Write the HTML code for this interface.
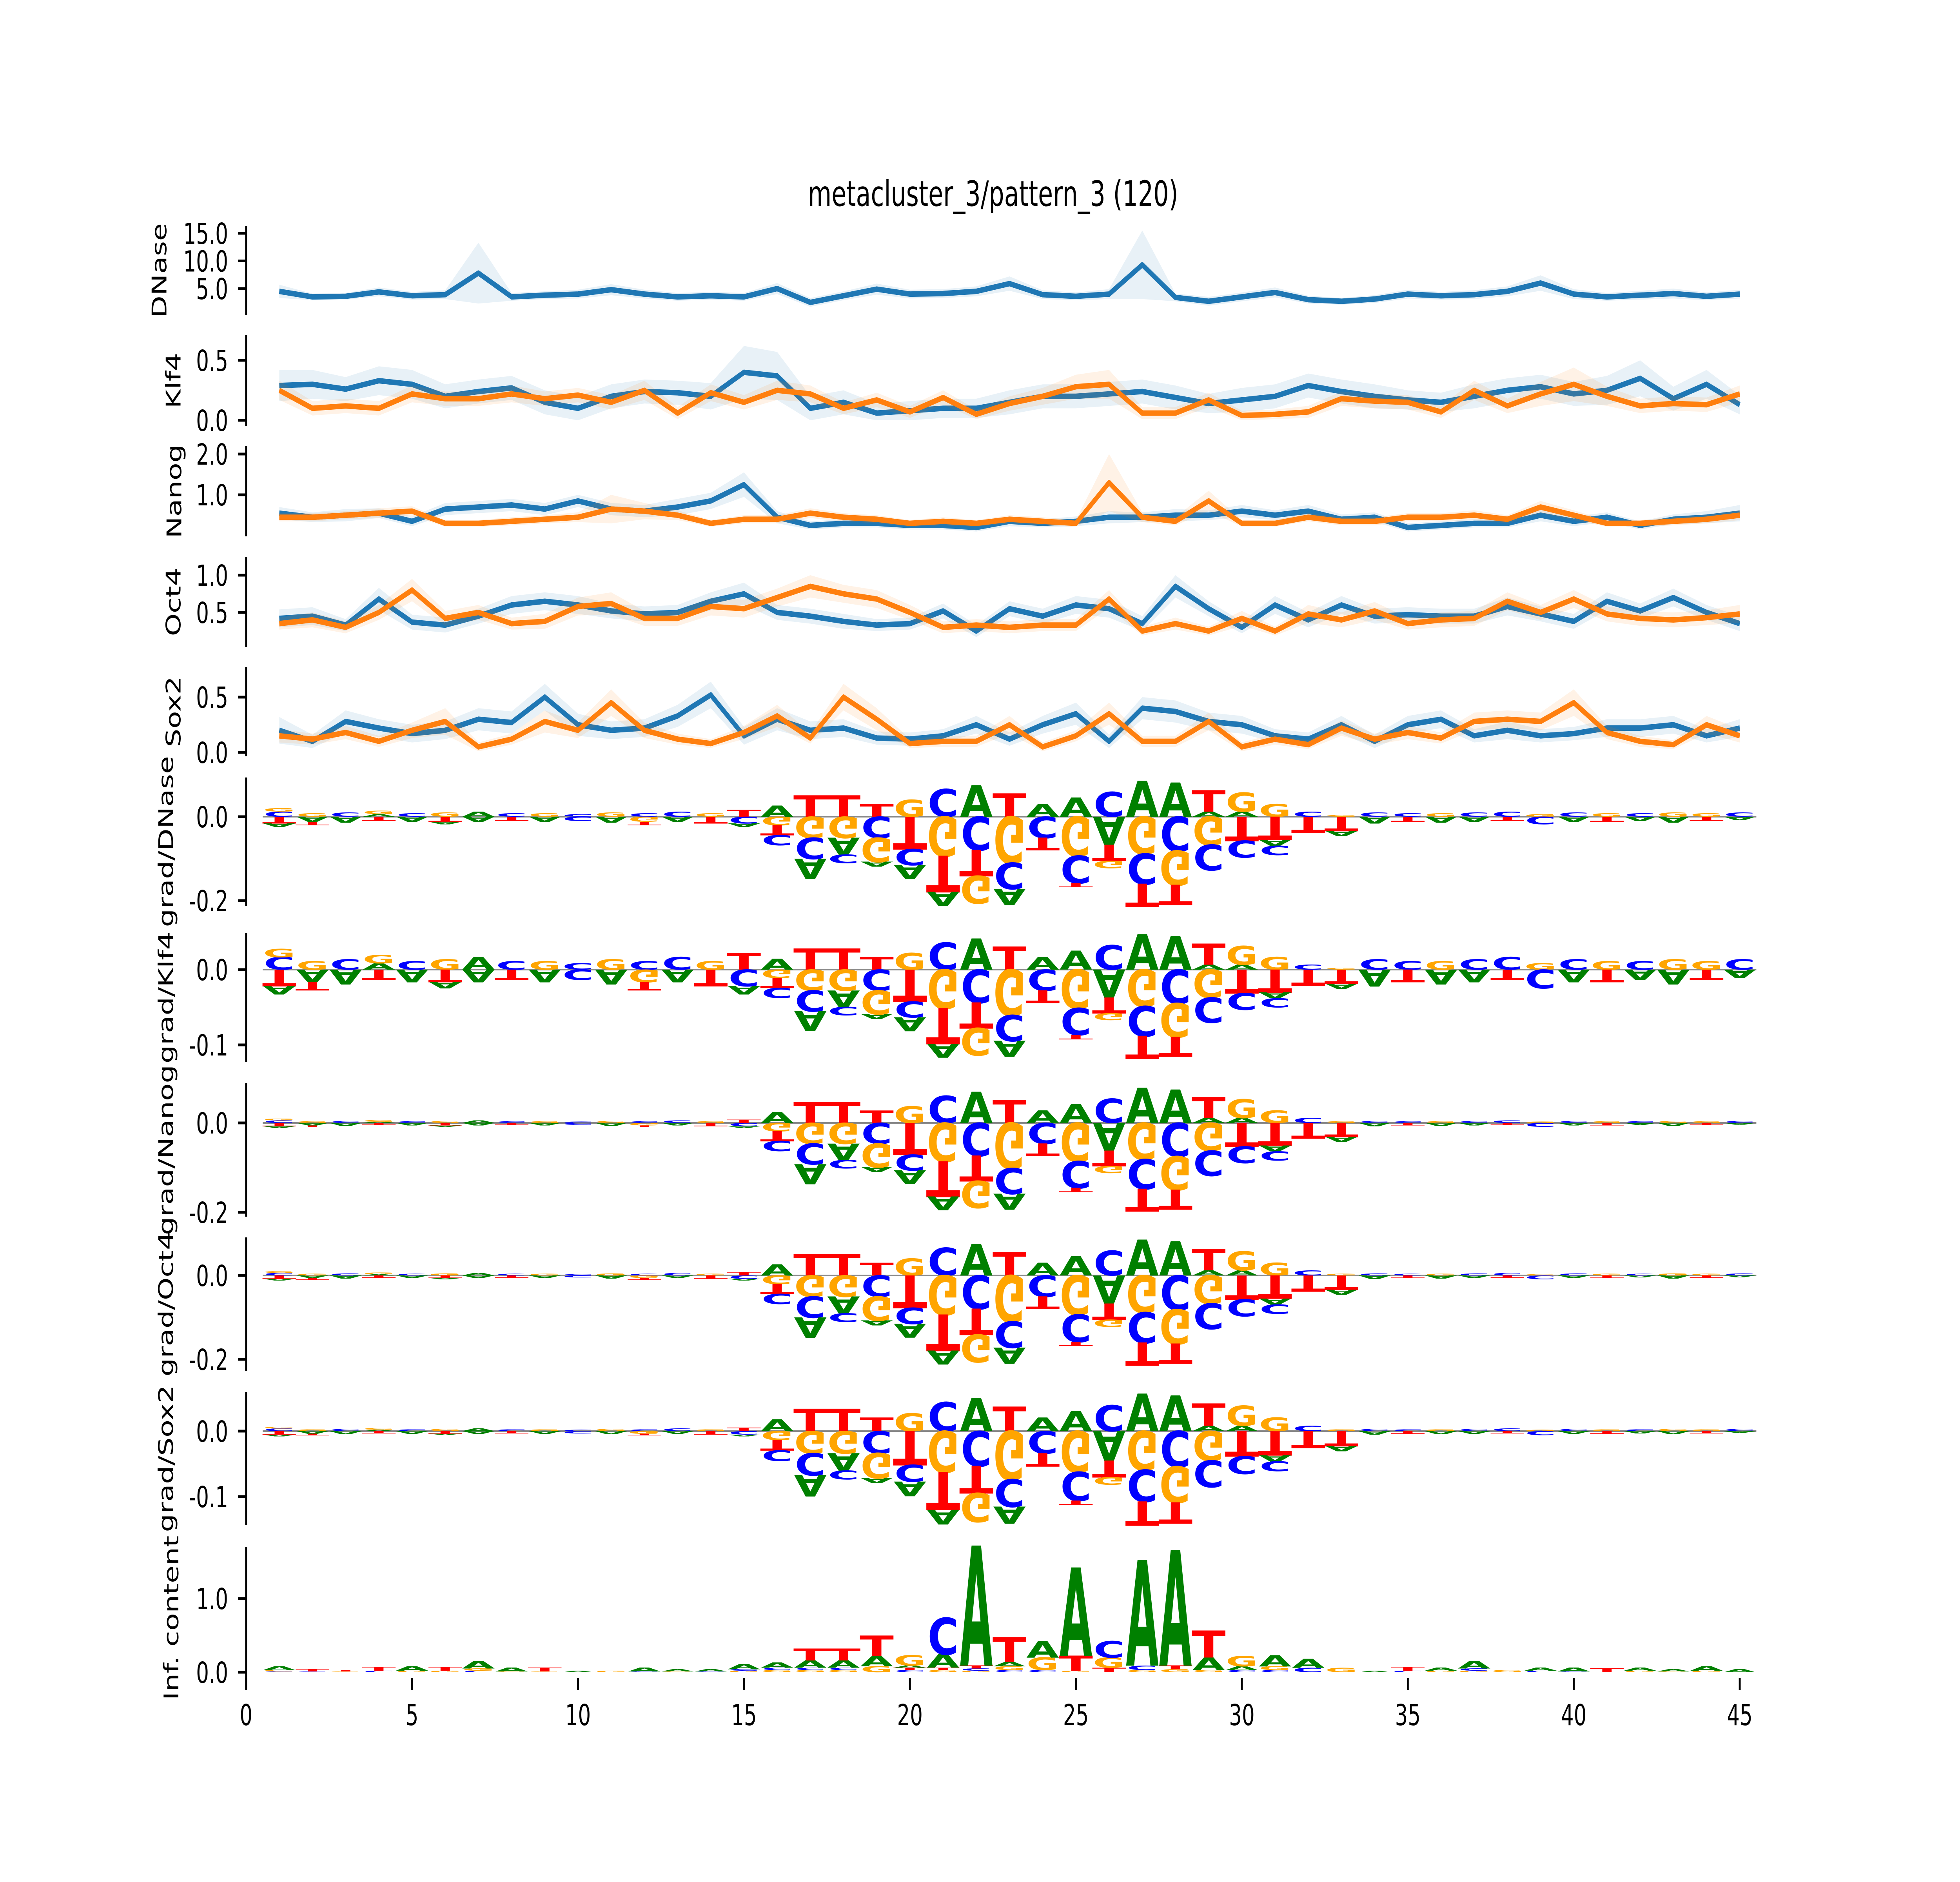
<!DOCTYPE html>
<html><head><meta charset="utf-8">
<style>
html,body{margin:0;padding:0;background:#fff;overflow:hidden;width:100%;height:100%;}
svg{display:block;width:100vw;height:100vh;}
text{font-family:"DejaVu Sans","Liberation Sans",sans-serif;}
</style></head>
<body>
<svg id="fig" xmlns="http://www.w3.org/2000/svg" viewBox="0 0 7200 4800" preserveAspectRatio="none">
<rect x="0" y="0" width="7200" height="4800" fill="#ffffff"/>
<text x="3648" y="525" font-size="89" text-anchor="middle">metacluster_3/pattern_3 (120)</text>
</svg>
<script>
// ---------- data ----------
const positions = [1,2,3,4,5,6,7,8,9,10,11,12,13,14,15,16,17,18,19,20,21,22,23,24,25,26,27,28,29,30,31,32,33,34,35,36,37,38,39,40,41,42,43,44,45];
const xTicks = [0,5,10,15,20,25,30,35,40,45];
const xTickLabels = ["0","5","10","15","20","25","30","35","40","45"];

const dnaseBlue = [4.5,3.5,3.6,4.4,3.7,3.9,7.8,3.5,3.8,4.0,4.8,4.0,3.5,3.7,3.5,5.0,2.5,3.7,4.9,4.0,4.1,4.5,5.9,3.9,3.6,4.0,9.3,3.4,2.7,3.5,4.3,3.0,2.7,3.1,4.0,3.7,3.9,4.5,6.0,4.0,3.5,3.8,4.1,3.6,4.0];
const dnaseBlueErr = [1.2,0.6,0.6,0.8,0.7,0.8,5.5,0.7,0.7,0.8,1.0,0.8,0.7,0.7,0.7,1.0,0.8,0.8,1.0,0.8,0.8,0.9,1.3,0.8,0.7,0.9,6.2,0.7,0.8,0.8,0.9,0.7,0.6,0.7,0.8,0.7,0.8,0.9,1.4,0.9,0.7,0.8,0.9,0.7,0.8];

const klf4Blue = [0.29,0.30,0.26,0.33,0.30,0.20,0.24,0.27,0.15,0.10,0.20,0.24,0.23,0.20,0.40,0.37,0.10,0.15,0.06,0.08,0.10,0.10,0.15,0.20,0.20,0.22,0.24,0.19,0.14,0.17,0.20,0.29,0.24,0.20,0.17,0.15,0.20,0.25,0.28,0.22,0.25,0.35,0.18,0.30,0.13];
const klf4BlueErr = [0.13,0.12,0.1,0.12,0.12,0.1,0.1,0.1,0.1,0.1,0.1,0.1,0.1,0.11,0.22,0.2,0.1,0.1,0.08,0.08,0.08,0.08,0.1,0.1,0.1,0.1,0.1,0.1,0.08,0.1,0.1,0.1,0.1,0.1,0.08,0.08,0.1,0.1,0.1,0.1,0.12,0.15,0.1,0.12,0.08];
const klf4Orange = [0.25,0.10,0.12,0.10,0.22,0.18,0.18,0.22,0.18,0.21,0.15,0.25,0.06,0.23,0.15,0.25,0.22,0.10,0.17,0.07,0.19,0.05,0.14,0.20,0.28,0.30,0.06,0.06,0.17,0.04,0.05,0.07,0.18,0.16,0.15,0.07,0.25,0.12,0.22,0.30,0.20,0.12,0.14,0.13,0.22];
const klf4OrangeErr = [0.08,0.06,0.06,0.06,0.07,0.06,0.06,0.07,0.06,0.06,0.06,0.08,0.05,0.07,0.06,0.08,0.07,0.05,0.06,0.05,0.06,0.04,0.06,0.07,0.1,0.12,0.05,0.05,0.06,0.04,0.04,0.05,0.06,0.06,0.06,0.05,0.08,0.06,0.1,0.14,0.08,0.06,0.06,0.06,0.07];

const nanogBlue = [0.55,0.45,0.50,0.55,0.35,0.65,0.70,0.75,0.65,0.85,0.65,0.60,0.70,0.85,1.25,0.45,0.25,0.30,0.30,0.25,0.25,0.20,0.35,0.30,0.35,0.45,0.45,0.50,0.50,0.60,0.50,0.60,0.40,0.45,0.20,0.25,0.30,0.30,0.50,0.35,0.45,0.25,0.40,0.45,0.55];
const nanogBlueErr = [0.15,0.12,0.15,0.12,0.12,0.15,0.15,0.15,0.15,0.15,0.15,0.15,0.2,0.2,0.3,0.15,0.1,0.1,0.1,0.1,0.1,0.1,0.12,0.1,0.12,0.15,0.12,0.15,0.12,0.15,0.12,0.15,0.12,0.12,0.1,0.1,0.1,0.1,0.15,0.12,0.12,0.1,0.12,0.15,0.2];
const nanogOrange = [0.45,0.45,0.50,0.55,0.60,0.30,0.30,0.35,0.40,0.45,0.65,0.60,0.50,0.30,0.40,0.40,0.55,0.45,0.40,0.30,0.35,0.30,0.40,0.35,0.30,1.30,0.45,0.35,0.85,0.30,0.30,0.45,0.35,0.35,0.45,0.45,0.50,0.40,0.70,0.50,0.30,0.30,0.35,0.40,0.50];
const nanogOrangeErr = [0.1,0.1,0.1,0.12,0.12,0.08,0.08,0.1,0.1,0.12,0.35,0.2,0.12,0.08,0.1,0.1,0.12,0.1,0.1,0.08,0.1,0.08,0.1,0.1,0.08,0.7,0.12,0.1,0.25,0.08,0.08,0.1,0.1,0.1,0.1,0.1,0.12,0.1,0.15,0.12,0.08,0.08,0.1,0.1,0.12];

const oct4Blue = [0.42,0.45,0.33,0.68,0.37,0.33,0.45,0.60,0.65,0.60,0.52,0.48,0.50,0.65,0.75,0.50,0.45,0.38,0.33,0.35,0.52,0.25,0.55,0.45,0.60,0.55,0.35,0.85,0.55,0.30,0.60,0.40,0.60,0.45,0.47,0.45,0.45,0.58,0.48,0.38,0.65,0.52,0.70,0.50,0.35];
const oct4BlueErr = [0.12,0.12,0.08,0.15,0.1,0.1,0.1,0.12,0.12,0.12,0.1,0.1,0.1,0.12,0.15,0.1,0.1,0.1,0.08,0.08,0.1,0.08,0.1,0.1,0.12,0.12,0.1,0.15,0.1,0.08,0.12,0.1,0.12,0.1,0.1,0.1,0.1,0.12,0.1,0.1,0.12,0.1,0.12,0.1,0.1];
const oct4Orange = [0.35,0.40,0.30,0.50,0.80,0.42,0.50,0.35,0.38,0.58,0.62,0.42,0.42,0.58,0.55,0.70,0.85,0.75,0.68,0.50,0.30,0.33,0.30,0.33,0.33,0.68,0.25,0.35,0.25,0.42,0.25,0.48,0.40,0.52,0.35,0.40,0.42,0.65,0.50,0.68,0.48,0.42,0.40,0.43,0.48];
const oct4OrangeErr = [0.08,0.1,0.08,0.1,0.15,0.1,0.1,0.08,0.1,0.12,0.15,0.1,0.1,0.12,0.12,0.12,0.15,0.12,0.12,0.1,0.08,0.08,0.08,0.08,0.08,0.12,0.06,0.08,0.06,0.1,0.06,0.12,0.1,0.12,0.08,0.1,0.1,0.12,0.1,0.12,0.1,0.1,0.1,0.1,0.12];

const sox2Blue = [0.20,0.10,0.28,0.22,0.17,0.20,0.30,0.27,0.50,0.25,0.20,0.22,0.33,0.52,0.15,0.30,0.20,0.22,0.13,0.12,0.15,0.25,0.12,0.25,0.35,0.10,0.40,0.37,0.28,0.25,0.15,0.12,0.25,0.10,0.25,0.30,0.15,0.20,0.15,0.17,0.22,0.22,0.25,0.15,0.22];
const sox2BlueErr = [0.12,0.06,0.1,0.08,0.08,0.08,0.1,0.1,0.12,0.1,0.08,0.08,0.1,0.12,0.08,0.1,0.08,0.08,0.06,0.06,0.06,0.08,0.06,0.08,0.1,0.06,0.1,0.1,0.08,0.08,0.06,0.06,0.08,0.06,0.08,0.08,0.06,0.08,0.06,0.06,0.08,0.08,0.08,0.06,0.08];
const sox2Orange = [0.15,0.12,0.18,0.10,0.20,0.28,0.05,0.12,0.28,0.20,0.45,0.20,0.12,0.08,0.18,0.33,0.13,0.50,0.30,0.08,0.10,0.10,0.25,0.05,0.15,0.35,0.10,0.10,0.28,0.05,0.12,0.07,0.22,0.12,0.18,0.13,0.28,0.30,0.28,0.45,0.18,0.10,0.07,0.25,0.15];
const sox2OrangeErr = [0.06,0.05,0.06,0.05,0.07,0.12,0.04,0.05,0.1,0.07,0.12,0.07,0.05,0.04,0.06,0.1,0.05,0.12,0.1,0.04,0.05,0.05,0.08,0.04,0.05,0.1,0.05,0.05,0.08,0.04,0.05,0.04,0.07,0.05,0.06,0.05,0.08,0.08,0.08,0.12,0.06,0.05,0.04,0.08,0.06];

// contribution logo (base pattern, stacks listed from the baseline outward)
const gradPos = ["C:.006,G:.004","G:.004","C:.005","A:.003,G:.004","C:.004","G:.005","A:.006","C:.004","G:.004","C:.003","G:.005","C:.004","C:.006","G:.004","T:.008",
 "A:.026","T:.05","T:.05","T:.03","G:.04","C:.065","A:.074","T:.055","A:.03","A:.045","C:.058","A:.084","A:.08","A:.012,T:.05","A:.012,G:.045","G:.03","C:.012","G:.004",
 "C:.005","C:.004","G:.004","C:.005","C:.006","G:.003","C:.005","G:.004","C:.004","G:.005","G:.004","C:.005"];
const gradNeg = ["T:.008,A:.004","A:.006,T:.004","A:.007","T:.005","A:.006","T:.006,A:.003","A:.006","T:.005","A:.006","C:.005","A:.007","G:.006,T:.004","A:.006","T:.008","C:.008,A:.004",
 "G:.02,T:.024,C:.024","G:.05,C:.05,A:.048","G:.05,A:.04,C:.02","C:.05,G:.057,A:.012","T:.077,C:.038,A:.033","G:.093,T:.086,A:.033","C:.079,T:.062,G:.065","G:.11,C:.062,A:.038","C:.05,T:.03","G:.093,C:.065,T:.01","A:.067,T:.038,G:.017","G:.088,C:.072,T:.055","C:.081,G:.081,T:.048","G:.067,C:.06","T:.057,C:.04","T:.055,A:.014,C:.022","T:.038","T:.034,A:.012",
 "A:.008","T:.006","A:.007","A:.006","T:.005","C:.009","A:.006","T:.006","A:.005","A:.007","T:.005","A:.004"];
const gradPanelScale = [1.0, 0.55, 0.92, 1.0, 0.67];
const gradFlankScale = [2, 5, 1, 1, 1];

const infoStacks = ["C:.01,G:.02,A:.05","C:.01,T:.03","G:.01,T:.02","C:.02,T:.05","G:.02,A:.06","G:.02,T:.05","C:.02,G:.03,A:.1","G:.01,A:.05","G:.01,T:.05","A:.02","G:.02","C:.01,A:.05","G:.01,A:.03","C:.01,A:.03","G:.02,C:.02,A:.07",
 "G:.03,C:.03,A:.07","G:.03,C:.03,A:.1,T:.16","G:.03,C:.03,A:.1,T:.16","G:.08,A:.14,T:.27","C:.03,T:.03,A:.03,G:.14","G:.03,T:.03,A:.18,C:.49","G:.02,C:.03,T:.04,A:1.6","C:.03,G:.05,A:.06,T:.33","C:.03,G:.17,A:.22","G:.02,T:.2,A:1.18","T:.06,G:.14,C:.22","G:.03,C:.06,A:1.41","G:.04,T:.05,A:1.54","G:.03,A:.17,T:.36","C:.03,A:.05,G:.14","C:.03,G:.05,A:.15","C:.06,A:.12","G:.06",
 "A:.02","C:.02,T:.05","G:.02,A:.04","G:.02,C:.03,A:.1","G:.03","C:.02,A:.04","C:.01,A:.05","T:.05","G:.02,A:.04","G:.01,A:.03","G:.02,A:.06","A:.04"];

// ---------- geometry ----------
const NS = "http://www.w3.org/2000/svg";
const svg = document.getElementById('fig');
const X0 = 904, PPU = 121.93;
function xs(v){ return X0 + v*PPU; }
const BLUE = "#1f77b4", ORANGE = "#ff7f0e";
const LCOL = {A:"#008000", C:"#0000ff", G:"#ffa500", T:"#ff0000"};
const LW = {A:72.2, C:72.2, G:77.8, T:61.1};

function el(tag, attrs, parent){
  const e = document.createElementNS(NS, tag);
  for (const k in attrs) e.setAttribute(k, attrs[k]);
  (parent||svg).appendChild(e);
  return e;
}

const linePanels = [
  {name:"DNase", zero:806.5, ppu:14.1, top:576, bot:804, ticks:[5,10,15], labels:["5.0","10.0","15.0"], lx:585, series:[[dnaseBlue,dnaseBlueErr,BLUE]]},
  {name:"Klf4", zero:1072, ppu:306, top:855, bot:1086, ticks:[0,0.5], labels:["0.0","0.5"], lx:637, series:[[klf4Blue,klf4BlueErr,BLUE],[klf4Orange,klf4OrangeErr,ORANGE]]},
  {name:"Nanog", zero:1366, ppu:104, top:1138, bot:1368, ticks:[1,2], labels:["1.0","2.0"], lx:640, series:[[nanogBlue,nanogBlueErr,BLUE],[nanogOrange,nanogOrangeErr,ORANGE]]},
  {name:"Oct4", zero:1657, ppu:190, top:1420, bot:1650, ticks:[0.5,1], labels:["0.5","1.0"], lx:637, series:[[oct4Blue,oct4BlueErr,BLUE],[oct4Orange,oct4OrangeErr,ORANGE]]},
  {name:"Sox2", zero:1919, ppu:282, top:1701, bot:1929, ticks:[0,0.5], labels:["0.0","0.5"], lx:637, series:[[sox2Blue,sox2BlueErr,BLUE],[sox2Orange,sox2OrangeErr,ORANGE]]}
];
const gradPanels = [
  {name:"grad/DNase", zero:2083, ppu:1070, top:1983, bot:2310, ticks:[0,-0.2], labels:["0.0","-0.2"], lx:610},
  {name:"grad/Klf4", zero:2473, ppu:1920, top:2380, bot:2708, ticks:[0,-0.1], labels:["0.0","-0.1"], lx:610},
  {name:"grad/Nanog", zero:2864, ppu:1140, top:2763, bot:3103, ticks:[0,-0.2], labels:["0.0","-0.2"], lx:610},
  {name:"grad/Oct4", zero:3253, ppu:1070, top:3156, bot:3496, ticks:[0,-0.2], labels:["0.0","-0.2"], lx:610},
  {name:"grad/Sox2", zero:3650, ppu:1670, top:3550, bot:3890, ticks:[0,-0.1], labels:["0.0","-0.1"], lx:610}
];
const infoPanel = {name:"Inf. content", zero:4265, ppu:188, top:3945, bot:4308, ticks:[0,1], labels:["0.0","1.0"], lx:629};

function slug(s){ return s.toLowerCase().replace(/[^a-z0-9]+/g,'-').replace(/^-|-$/g,''); }

function drawAxis(p){
  const g = el('g', {});
  
  
  const sp = el('line', {x1:X0, x2:X0, y1:p.top, y2:p.bot, stroke:"#000", "stroke-width":7}, g);
  
  
  p.ticks.forEach((t,i)=>{
    const y = p.zero - t*p.ppu;
    const tk = el('line', {x1:X0-30, x2:X0, y1:y, y2:y, stroke:"#000", "stroke-width":7}, g);
    
    
    const tx = el('text', {x:838, y:y+27, "font-size":74, "text-anchor":"end"}, g);
    
    
    tx.textContent = p.labels[i];
  });
  const cy = (p.top+p.bot)/2;
  const lab = el('text', {x:0, y:0, "font-size":74, "text-anchor":"middle", transform:`translate(${p.lx+26},${cy}) rotate(-90)`}, g);
  
  
  lab.textContent = p.name;
}

function drawLetter(parent, ch, cx, yTop, h, flip, w){
  if (h < 0.5) return;
  const sx = w / LW[ch], sy = h / 71.6;
  const t = el('text', {x:0, y:0, "font-size":100, "font-weight":"bold", "text-anchor":"middle",
    "font-family":"Liberation Sans, DejaVu Sans, sans-serif", fill:LCOL[ch],
    transform: flip ? `translate(${cx},${yTop}) scale(${sx},${-sy})` : `translate(${cx},${yTop+h}) scale(${sx},${sy})`}, parent);
  
  
  t.textContent = ch;
}

function parseStack(s){ return s.split(',').map(k=>{ const [l,v]=k.split(':'); return [l, parseFloat(v)]; }); }

// line panels
linePanels.forEach(p=>{
  drawAxis(p);
  const ys = v => p.zero - v*p.ppu;
  p.series.forEach((s,si)=>{
    const [vals, err, col] = s;
    const g = el('g', {});
    
    
    let up = '', lo = '';
    positions.forEach((x,i)=>{ up += (i?'L':'M')+xs(x)+','+ys(vals[i]+err[i]); });
    for (let i=positions.length-1;i>=0;i--){ lo += 'L'+xs(positions[i])+','+ys(Math.max(0,vals[i]-err[i])); }
    const band = el('path', {d: up+lo+'Z', fill:col, "fill-opacity":0.1, stroke:"none"}, g);
    
    
    const d = positions.map((x,i)=>(i?'L':'M')+xs(x)+','+ys(vals[i])).join('');
    const ln = el('path', {d, fill:"none", stroke:col, "stroke-width":14, "stroke-linejoin":"round"}, g);
    
    
  });
});

// grad logo panels
gradPanels.forEach((p,pi)=>{
  drawAxis(p);
  const g = el('g', {});
  
  
  const zl = el('line', {x1:xs(0.5), x2:xs(45.5), y1:p.zero, y2:p.zero, stroke:"#888", "stroke-width":4}, g);
  
  
  positions.forEach((x,i)=>{
    const flank = (x<16 || x>33) ? gradFlankScale[pi] : 1;
    const k = gradPanelScale[pi]*flank*p.ppu;
    let y = p.zero;
    parseStack(gradPos[i]).forEach(([l,v])=>{ const h=v*k; drawLetter(g,l,xs(x),y-h,h,false,112); y-=h; });
    y = p.zero;
    parseStack(gradNeg[i]).forEach(([l,v])=>{ const h=v*k; drawLetter(g,l,xs(x),y,h,true,112); y+=h; });
  });
});

// info content panel
drawAxis(infoPanel);
(function(){
  const p = infoPanel;
  const g = el('g', {});
  
  
  positions.forEach((x,i)=>{
    let y = p.zero;
    parseStack(infoStacks[i]).forEach(([l,v])=>{ const h=v*p.ppu; drawLetter(g,l,xs(x),y-h,h,false,112); y-=h; });
  });
  const ax = el('g', {});
  
  
  xTicks.forEach((t,i)=>{
    const tk = el('line', {x1:xs(t), x2:xs(t), y1:4280, y2:4310, stroke:"#000", "stroke-width":7}, ax);
    
    
    const tx = el('text', {x:xs(t), y:4400, "font-size":74, "text-anchor":"middle"}, ax);
    
    
    tx.textContent = xTickLabels[i];
  });
})();
</script>
</body></html>
